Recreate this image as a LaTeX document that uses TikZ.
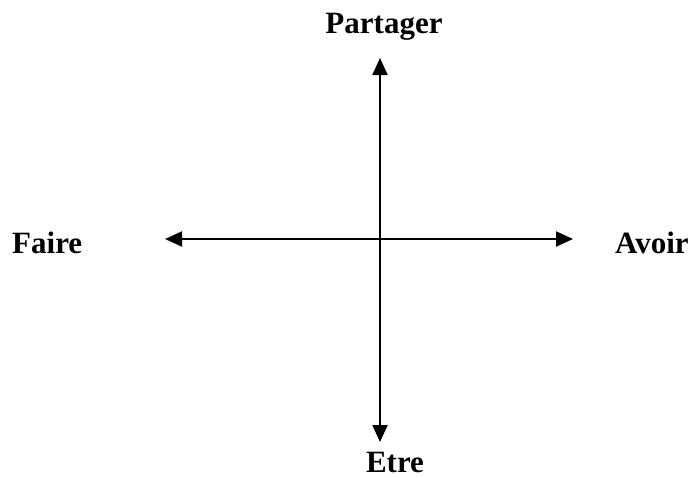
\documentclass[tikz,border=0pt]{standalone}
\usepackage{fontspec}
\setmainfont{Liberation Serif}
\usetikzlibrary{arrows.meta,positioning}
\tikzset{
  axislabel/.style={font=\fontsize{31}{36}\selectfont\bfseries,inner sep=0pt},
  axisline/.style={line width=2pt,{Triangle[length=17pt,width=15pt]}-{Triangle[length=17pt,width=15pt]}}
}

\begin{document}
\begin{tikzpicture}[x=1pt,y=-1pt]
        \useasboundingbox (0,0) rectangle (695,477);

        \node[axislabel,anchor=base] (partager) at (384,33) {Partager};
        \node[axislabel,anchor=base] (etre) at (395,472) {Etre};
        \node[axislabel,anchor=base west] (faire) at (12,253) {Faire};
        \node[axislabel,anchor=base west] (avoir) at (615,253) {Avoir};

        \coordinate (top) at (380,58);
        \coordinate (bottom) at (380,442);
        \coordinate (left) at (165,239);
        \coordinate (right) at (573,239);

        \draw[axisline] (top) -- (bottom);
        \draw[axisline] (left) -- (right);
      \end{tikzpicture}
\end{document}
